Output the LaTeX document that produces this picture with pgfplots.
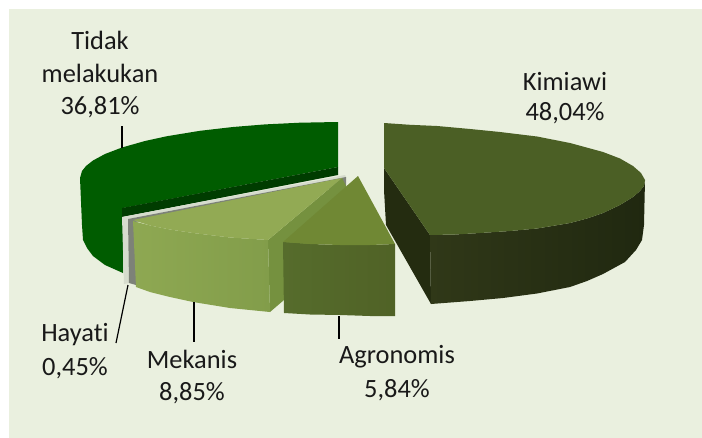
\documentclass[border=0pt]{standalone}
\usepackage{pgfplots}
\pgfplotsset{compat=1.18}
\usepackage{fontspec}
\setmainfont[Ligatures=NoCommon]{Carlito}
\definecolor{bg}{HTML}{EAF0DF}
\begin{document}
\begin{tikzpicture}
\begin{axis}[
  name=ax,
  width=702bp,height=438bp,scale only axis,
  xmin=0,xmax=702,ymin=0,ymax=438,y dir=reverse,
  hide axis,clip=true,
  every axis plot/.append style={draw=none},
]
% background
\addplot[fill=white] coordinates {(0,0)(702,0)(702,438)(0,438)} -- cycle;
\addplot[fill=bg] coordinates {(9,9)(702,9)(702,438)(9,438)} -- cycle;
% Tidak melakukan
\addplot[fill={rgb,255:red,0;green,92;blue,0}] coordinates {(338,122)(300,122.7)(265,124.4)(233,127)(200,130.8)(167,136.2)(145,141)(122,147.5)(105,154)(93,160.5)(86,166)(82,171)(80,178)(82,225)(83,240)(87,248)(93,256)(105,265)(123,273)(123,208)(338,167)} -- cycle;
\addplot[fill={rgb,255:red,0;green,60;blue,0}] coordinates {(122,208)(338,167)(338,175)(122,217)} -- cycle;
% Hayati
\addplot[fill={rgb,255:red,214;green,220;blue,205}] coordinates {(122,217)(345,175)(346,177)(128,219)(129,283)(124,284)} -- cycle;
\addplot[fill={rgb,255:red,125;green,130;blue,120}] coordinates {(128,219)(346,177)(346,186)(135,222)(136,285)(129,283)} -- cycle;
% Mekanis
\addplot[fill={rgb,255:red,117;green,145;blue,63}] coordinates {(268,240)(342,178)(346,186)(346,200)(284,300)(270,312)} -- cycle;
\addplot[left color={rgb,255:red,142;green,168;blue,82},right color={rgb,255:red,130;green,157;blue,74}] coordinates {(133,221)(150,225.5)(170,229.5)(193,233)(230,237.5)(268,240)(270,312)(230,308)(193,302)(170,297)(150,292)(136,287)} -- cycle;
\addplot[fill={rgb,255:red,146;green,170;blue,84}] coordinates {(133,220)(342,178)(268,240)(230,237.5)(193,233)(170,229.5)(150,225.5)} -- cycle;
% Agronomis
\addplot[left color={rgb,255:red,86;green,108;blue,44},right color={rgb,255:red,80;green,98;blue,38}] coordinates {(283,242)(310,244)(340,245)(370,245)(395,244)(395,316)(370,316)(340,315)(310,314.5)(284,313)} -- cycle;
\addplot[fill={rgb,255:red,112;green,136;blue,52}] coordinates {(358,176)(395,244)(370,245)(340,245)(310,244)(283,242)} -- cycle;
% Kimiawi
\addplot[fill={rgb,255:red,36;green,44;blue,16}] coordinates {(384,123)(384,168)(430,235)(431,304)(386,225)(384,190)} -- cycle;
\addplot[left color={rgb,255:red,48;green,56;blue,24},right color={rgb,255:red,32;green,40;blue,16}] coordinates {(430,235)(455,234.5)(480,233)(510,231)(537,228.5)(570,223)(587,218.5)(603,213)(620,205)(633,197)(640,191)(644,186)(645,180)(644,225)(642,240)(636,250)(625,262)(603,274)(587,281)(570,287)(537,293.5)(503,298)(470,301)(431,304)} -- cycle;
\addplot[fill={rgb,255:red,75;green,95;blue,37}] coordinates {(384,123)(410,124.8)(437,126)(470,129)(500,132)(537,136.5)(570,143)(603,152)(620,158.5)(633,166)(641,173)(645,180)(644,186)(640,191)(633,197)(620,205)(603,213)(587,218.5)(570,223)(537,228.5)(510,231)(480,233)(455,234.5)(430,235)(384,168)} -- cycle;
% leader lines
\addplot[draw=black,line width=1.2bp] coordinates {(122,126)(122,148)};
\addplot[draw=black,line width=1.2bp] coordinates {(128,285)(116,343)};
\addplot[draw=black,line width=1.2bp] coordinates {(194,302)(194,342)};
\addplot[draw=black,line width=1.2bp] coordinates {(339,316)(339,339)};
% labels
\foreach \x/\y/\t in {100/40/Tidak,100/73/melakukan,100/107/{36,81\%},565/82/Kimiawi,565/113/{48,04\%},75/335/Hayati,75/368/{0,45\%},192/359/Mekanis,192/393/{8,85\%},397/357/Agronomis,397/390/{5,84\%}}{
  \edef\tmp{\noexpand\node[font=\noexpand\fontsize{26.4bp}{28bp}\noexpand\selectfont,text=black!90] at (axis cs:\x,\y) {\unexpanded\expandafter{\t}};}
  \tmp
}
\end{axis}
\pgfresetboundingbox
\path[use as bounding box] (ax.south west) rectangle (ax.north east);
\end{tikzpicture}
\end{document}
